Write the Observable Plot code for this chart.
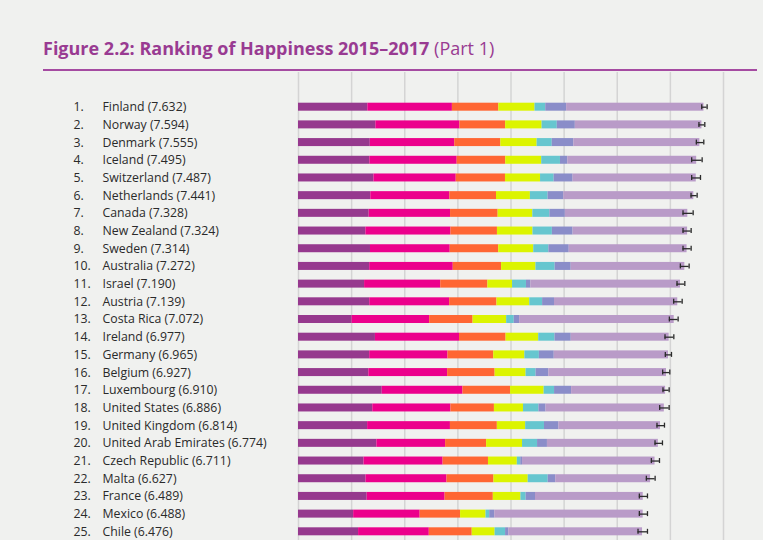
<!DOCTYPE html>
<html><head><meta charset="utf-8">
<script src="https://cdn.jsdelivr.net/npm/d3@7"></script>
<script src="https://cdn.jsdelivr.net/npm/@observablehq/plot@0.6"></script>
<style>
body{margin:0;background:#f0f1ef;width:763px;height:540px;overflow:hidden;font-family:"Open Sans",sans-serif}
#title{position:absolute;left:43px;top:37px;font-size:18px;line-height:22px;color:#993b92;white-space:nowrap;font-family:"Open Sans",sans-serif}
#title b{font-weight:700}
#title span{font-weight:400}
#rule{position:absolute;left:43px;top:69px;width:714px;height:2px;background:#a54ba1}
#chart{position:absolute;left:0;top:72px}
</style></head><body>
<div id="title"><b>Figure 2.2: Ranking of Happiness 2015–2017</b> <span>(Part 1)</span></div>
<div id="rule"></div>
<div id="chart"></div>
<script>
const countries = ["Finland","Norway","Denmark","Iceland","Switzerland","Netherlands","Canada","New Zealand","Sweden","Australia","Israel","Austria","Costa Rica","Ireland","Germany","Belgium","Luxembourg","United States","United Kingdom","United Arab Emirates","Czech Republic","Malta","France","Mexico","Chile"];
const scores = [7.632,7.594,7.555,7.495,7.487,7.441,7.328,7.324,7.314,7.272,7.190,7.139,7.072,6.977,6.965,6.927,6.910,6.886,6.814,6.774,6.711,6.627,6.489,6.488,6.476];
const gdp        = [1.305,1.456,1.351,1.343,1.420,1.361,1.330,1.268,1.355,1.340,1.244,1.341,1.010,1.448,1.340,1.324,1.576,1.398,1.301,1.475,1.233,1.270,1.293,1.038,1.131];
const social     = [1.592,1.582,1.590,1.644,1.549,1.488,1.532,1.601,1.501,1.573,1.433,1.504,1.459,1.583,1.474,1.483,1.520,1.471,1.559,1.294,1.489,1.525,1.466,1.252,1.331];
const health     = [0.874,0.861,0.868,0.914,0.927,0.878,0.896,0.876,0.913,0.910,0.888,0.891,0.817,0.876,0.861,0.894,0.896,0.819,0.883,0.772,0.854,0.884,0.908,0.761,0.808];
const freedom    = [0.681,0.686,0.683,0.677,0.660,0.638,0.653,0.669,0.659,0.647,0.464,0.617,0.632,0.614,0.586,0.583,0.632,0.547,0.533,0.676,0.543,0.645,0.520,0.479,0.431];
const generosity = [0.202,0.286,0.284,0.353,0.256,0.333,0.321,0.365,0.285,0.361,0.262,0.242,0.143,0.307,0.273,0.188,0.196,0.291,0.354,0.283,0.064,0.376,0.098,0.069,0.197];
const corruption = [0.393,0.340,0.408,0.138,0.357,0.295,0.291,0.389,0.383,0.302,0.082,0.224,0.101,0.306,0.280,0.240,0.321,0.133,0.272,0.186,0.034,0.142,0.176,0.095,0.061];
const whiskerLow  = [7.590,7.538,7.489,7.401,7.401,7.389,7.238,7.238,7.238,7.188,7.125,7.062,6.981,6.899,6.905,6.855,6.861,6.799,6.748,6.711,6.642,6.548,6.416,6.416,6.391];
const whiskerHigh = [7.692,7.648,7.629,7.598,7.567,7.504,7.429,7.391,7.391,7.353,7.272,7.222,7.146,7.065,7.021,6.989,6.977,6.977,6.889,6.851,6.795,6.713,6.569,6.569,6.569];
const factors = ["GDP per capita","Social support","Healthy life expectancy","Freedom to make life choices","Generosity","Perceptions of corruption","Dystopia (1.92) + residual"];
const colors = ["#96398e","#ec008c","#ff6633","#dcf400","#66c6cf","#8a8dc9","#b99bc8"];
const gridTicks = [0,1,2,3,4,5,6,7,8];

const rows = countries.map((c, i) => ({
  rank: i + 1, country: c, score: scores[i], lo: whiskerLow[i], hi: whiskerHigh[i],
  parts: [gdp[i], social[i], health[i], freedom[i], generosity[i], corruption[i],
          scores[i] - (gdp[i] + social[i] + health[i] + freedom[i] + generosity[i] + corruption[i])]
}));
const long = rows.flatMap(r => r.parts.map((v, k) => ({country: r.country, factor: factors[k], value: v})));

const plot = Plot.plot({
  width: 763, height: 473,
  marginLeft: 298, marginRight: 40, marginTop: 21, marginBottom: 0,
  style: {background: "transparent", fontFamily: "'Open Sans', sans-serif"},
  x: {domain: [0, 8], axis: null},
  y: {domain: countries, axis: null, padding: 0.548, round: false},
  color: {domain: factors, range: colors},
  marks: [
    Plot.ruleX(gridTicks, {x: d => d, stroke: "#d4d4d4", strokeWidth: 1.5, insetTop: -21}),
    Plot.barX(long, {x: "value", y: "country", fill: "factor"}),
    Plot.ruleY(rows, {y: "country", x1: "lo", x2: "hi", stroke: "#2b2b2b", strokeWidth: 1.3}),
    Plot.tickX(rows, {x: "lo", y: "country", stroke: "#2b2b2b", strokeWidth: 1.3, insetTop: 1.5, insetBottom: 1.5}),
    Plot.tickX(rows, {x: "hi", y: "country", stroke: "#2b2b2b", strokeWidth: 1.3, insetTop: 1.5, insetBottom: 1.5}),
    Plot.text(rows, {y: "country", text: d => d.rank + ".", frameAnchor: "left", dx: -225, textAnchor: "start", fontSize: 12.3, fill: "#2a2a2a"}),
    Plot.text(rows, {y: "country", text: d => `${d.country} (${d.score.toFixed(3)})`, frameAnchor: "left", dx: -196, textAnchor: "start", fontSize: 12.3, fill: "#2a2a2a"})
  ]
});
document.getElementById("chart").appendChild(plot);
</script>
</body></html>
